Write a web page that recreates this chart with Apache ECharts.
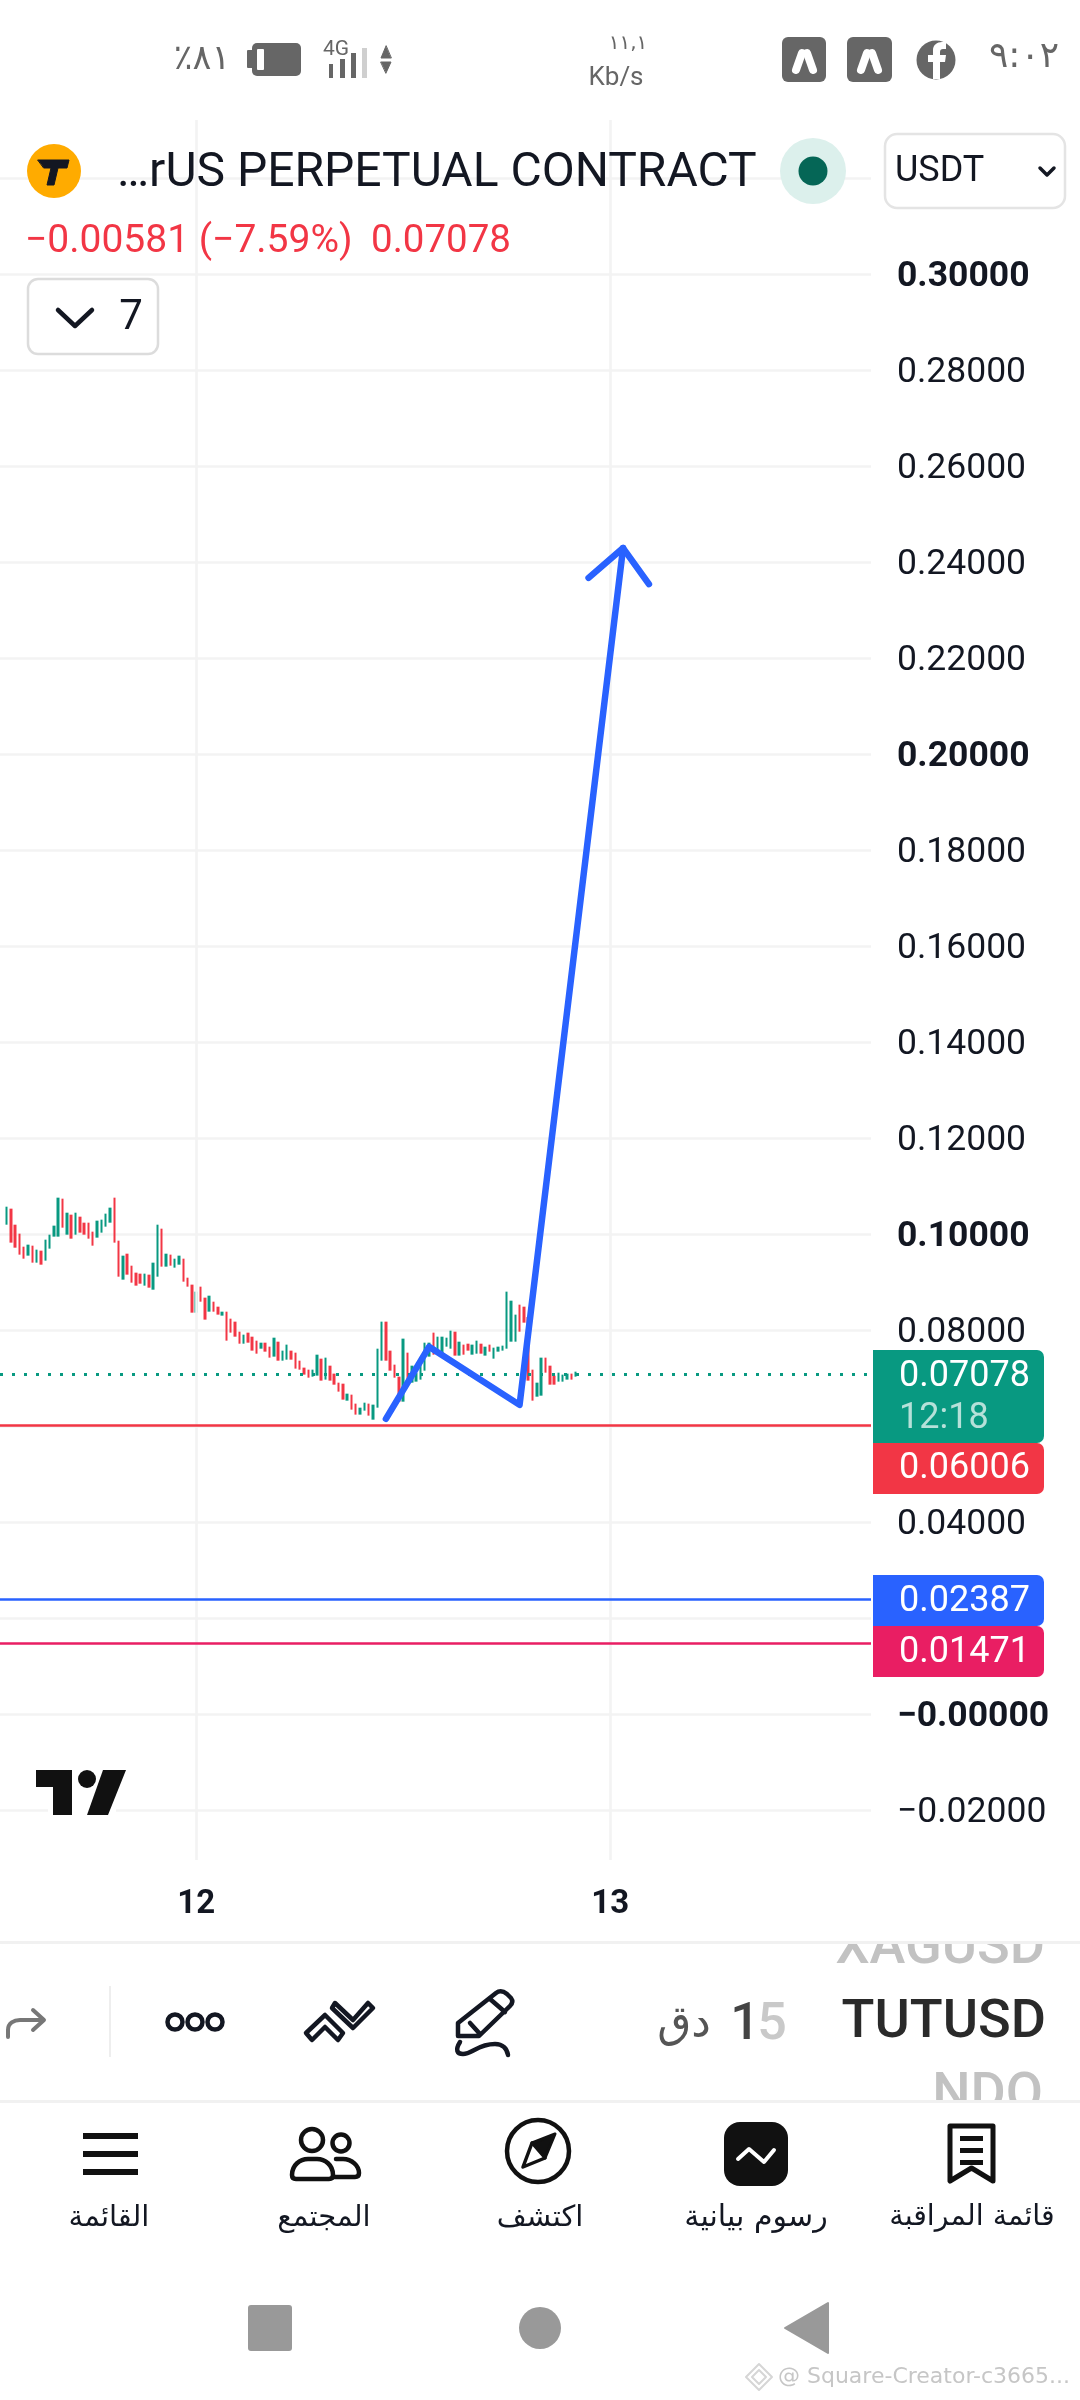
<!DOCTYPE html>
<html><head><meta charset="utf-8"><title>TUTUSD</title>
<style>html,body{margin:0;padding:0;background:#fff}#c{width:1080px;height:2400px}</style>
<script src="https://cdn.jsdelivr.net/npm/echarts@6/dist/echarts.min.js"></script></head>
<body><div id="c"></div>
<script>
// 15-minute bars (one body per bar, left to right)
const tops = [.10569,.10528,.10194,.10007,.09736,.09778,.09757,.09674,.09653,.09882,.09986,.10174,.10757,.10736,.10444,.10403,.10444,.10361,.10236,.10236,.10049,.10278,.10299,.10424,.10549,.10757,.09861,.09549,.0959,.0934,.09195,.09174,.09174,.09153,.09403,.10194,.10111,.0959,.0957,.09486,.09549,.09486,.0909,.08945,.08799,.08903,.08674,.08715,.0859,.08486,.08382,.08382,.08236,.08174,.07965,.07903,.07945,.07861,.07778,.07736,.07736,.07653,.0784,.07757,.0757,.07695,.0757,.07528,.07361,.07216,.07174,.07174,.07486,.07403,.07424,.07257,.07091,.06903,.06882,.06674,.06653,.06466,.06382,.06486,.06466,.06445,.07611,.08174,.08174,.0757,.07278,.07028,.0782,.07528,.07257,.07111,.07341,.07736,.07736,.07945,.07861,.07861,.0784,.07986,.07965,.07757,.07695,.07715,.07695,.07778,.07715,.07653,.07695,.07632,.07653,.07674,.08799,.08611,.0832,.08528,.08486,.08271,.07174,.06903,.07424,.07424,.07257,.07049,.07111,.0707,.07091,.07091,.07132];
const bottoms = [.10194,.0982,.09715,.0957,.09486,.09549,.09403,.09403,.09361,.09445,.09695,.09945,.09945,.10132,.09986,.09903,.09986,.10028,.09986,.09903,.09757,.09924,.10028,.10153,.10236,.0982,.09111,.09049,.09153,.08986,.08924,.08965,.08924,.08882,.0884,.09111,.0932,.0932,.0934,.09299,.09361,.09007,.08903,.08361,.08361,.0859,.08216,.08382,.08382,.0832,.08299,.07778,.07945,.07861,.07715,.07715,.07736,.0757,.07507,.07611,.07549,.07424,.07445,.07361,.07361,.07382,.07382,.07195,.07174,.0707,.07007,.07028,.07049,.06945,.06966,.06945,.06861,.06716,.06549,.06528,.06341,.06237,.06237,.0632,.06216,.06132,.06382,.07361,.07361,.07153,.07007,.06507,.06507,.06882,.06903,.06924,.06966,.07153,.07445,.07486,.07486,.07507,.07653,.07611,.07466,.07466,.07486,.0757,.07486,.07507,.07507,.07466,.07549,.07403,.07549,.0757,.07611,.07757,.07757,.07965,.08153,.06945,.06528,.06611,.06632,.07111,.06861,.06861,.06924,.06924,.06966,.06966,.07028];
const rising = [1,0,0,0,0,1,0,1,0,1,1,1,1,0,1,0,1,0,0,0,0,1,1,1,1,0,0,1,0,0,0,0,1,0,1,1,0,1,0,1,1,0,0,0,1,0,0,1,0,0,1,0,0,0,0,1,0,0,0,1,0,0,1,0,1,1,0,0,0,0,0,1,1,0,1,0,0,0,0,1,0,0,1,1,0,1,1,1,0,0,0,0,1,0,1,1,1,1,1,0,1,1,1,1,0,1,0,0,1,1,0,1,0,1,1,1,1,1,1,0,0,0,0,1,1,0,0,0,1,1,1,0,1];
// the category axis: one slot per 15 minutes; day labels sit on two of them
const dayLabels = ['12','13'];
const dayIndex = [45,141];
const slotCount = 202;
// horizontal price lines
const lastPrice = 0.07078;
const redLevel = 0.06006;
const blueLevel = 0.02387;
const pinkLevel = 0.01471;
const yMin = -0.04, yMax = 0.34, yStep = 0.02;
const visibleTop = 0.33208, visibleBottom = -0.03042;
// hand-drawn arrow on the chart: slot index + price
const drawnSlots = [89,99,120,144];
const drawnPrices = [0.0615,0.0765,0.0644,0.2429];
const headSlots = [136,144,150];
const headPrices = [0.2367,0.2429,0.2354];
const boldTicks = [30,20,10,0];
const hiddenTicks = [34,32,-4];

const UP='#089981', DOWN='#F23645', BLUE='#2962FF', PINK='#E91E63', GRID='#f3f3f3', INK='#131722';
const categories = Array.from({length:slotCount},(_,i)=>{const k=dayIndex.indexOf(i);return k>=0?dayLabels[k]:'s'+i;});
const candleData = [['-','-','-','-']].concat(tops.map((h,i)=>{
  const l=bottoms[i]; return rising[i]?[l,h,l,h]:[h,l,l,h];
}));
const pairs = (s,p)=>s.map((x,i)=>[categories[x],p[i]]);

const FONT='Roboto, sans-serif', AR='"DejaVu Sans", sans-serif';
const G=[];
let shapeNo=0;
function txt(t,x,y,font,fill,align,extra){
  const dy=font.indexOf('Roboto')>=0?3:0;
  G.push(Object.assign({type:'text',z:100,silent:true,style:{text:t,x:x,y:y+dy,font:font,fill:fill,textAlign:align||'left',textVerticalAlign:'middle'}},extra||{}));
}
function rect(x,y,w,h,fill,r,stroke,lw){G.push({type:'rect',z:100,silent:true,shape:{x,y,width:w,height:h,r:r||0},style:{fill:fill||'none',stroke:stroke||null,lineWidth:lw||0}});}
function circ(cx,cy,r,fill,stroke,lw){G.push({type:'circle',z:100,silent:true,shape:{cx,cy,r},style:{fill:fill||'none',stroke:stroke||null,lineWidth:lw||0}});}
function path(d,stroke,lw,fill){
  const name='icon'+(shapeNo++);
  echarts.graphic.registerShape(name,echarts.graphic.extendPath(d,{}));
  G.push({type:name,z:100,silent:true,style:{fill:fill||'none',stroke:stroke||null,lineWidth:lw||0,lineJoin:'round',lineCap:'round'}});
}

// status bar
const SB='#666666';
txt('٪٨١',202,60,'35px '+AR,SB,'center');
rect(252,43,49,33,SB,5); rect(247,50,6,18,SB,1); rect(257,49,7,21,'#fff',1);
txt('4G',336,47,'21px '+FONT,SB,'center');
rect(329,64,4,14,SB);rect(340,59,5,19,SB);rect(351,53,5,25,SB);rect(362,48,5,30,'#cfcfcf');
path('M386 46L381 58H391Z',SB,1,SB);path('M381 62H391L386 73Z',SB,1,SB);
txt('١١,١',628,44,'20px '+AR,SB,'center');
txt('Kb/s',616,75,'26px '+FONT,SB,'center');
rect(782,37,44,45,SB,6);rect(847,37,45,45,SB,6);
path('M796 70L802 53','#fff',8);path('M813 70L807 53','#fff',8);
path('M861 70L867 53','#fff',8);path('M878 70L872 53','#fff',8);
circ(936,60,19.5,SB);
path('M933 79V62H928V55H933V50C933 45 937 42 942 42H946V49H943C941 49 940 50 940 52V55H946L945 62H940V79Z',null,0,'#fff');
txt('٩:٠٢',1024,58,'36px '+AR,SB,'center');

// header
circ(54,171,27,'#FFAB00');
path('M38 160H69L67 168H58L54 185H47L51 168H44Z',INK,1,INK);
txt('…rUS PERPETUAL CONTRACT',117,171,'48px '+FONT,INK);
circ(813,171,33,'#DCF0EC');circ(813,171,14.5,'#056656');
rect(885,134,180,74,'#fff',12,'#e4e4e4',2.5);
txt('USDT',895,169,'36px '+FONT,INK);
path('M1040 168L1047 175L1054 168',INK,3.5);
txt('\u22120.00581 (\u22127.59%)',25,239,'39px '+FONT,DOWN);
txt(lastPrice.toFixed(5),371,239,'38.5px '+FONT,DOWN);
rect(28,279,130,75,'#fff',10,'#dcdcdc',2.5);
path('M58 310L75 326L92 310',INK,4.5);
txt('7',131,315,'42px '+FONT,INK,'center');

// price tags
const R=[0,7,7,0];
rect(873,1350,171,93,UP,R);
txt(lastPrice.toFixed(5),899,1374,'36px '+FONT,'#fff');
txt('12:18',899,1416,'36px '+FONT,'rgba(255,255,255,0.7)');
rect(873,1443,171,51,DOWN,R);
txt(redLevel.toFixed(5),899,1466,'36px '+FONT,'#fff');
rect(873,1575,171,51,BLUE,R);
txt(blueLevel.toFixed(5),899,1599,'36px '+FONT,'#fff');
rect(873,1626,171,51,PINK,R);
txt(pinkLevel.toFixed(5),899,1650,'36px '+FONT,'#fff');

// logo
rect(48,1805,68,9,'#fff');
path('M36 1770H72V1815H53V1787H36Z',null,0,'#111');
circ(87,1779,9,'#111');
path('M103 1770H126L108 1815H87Z',null,0,'#111');

// toolbar
txt('XAGUSD',1045,1946,'500 54px '+FONT,'#c2c2c2','right');
txt('NDO',1043,2093,'500 54px '+FONT,'#c2c2c2','right');
rect(830,1910,240,31,'#fff');rect(830,2102,240,30,'#fff');
rect(0,1941,1080,3,'#f1f1f1');rect(0,2100,1080,3,'#f1f1f1');
txt('TUTUSD',1046,2020,'500 54px '+FONT,'#2a2a2a','right');
txt('1',745,2023,'500 52px '+FONT,'#444','center');
txt('5',772,2023,'500 52px '+FONT,'#c9c9c9','center');
txt('دق',684,2026,'44px '+AR,'#555','center');
path('M458 2036V2023L496 1993Q501 1989 507 1994L511 1998Q514 2002 510 2006L479 2036Z M490 1999L505 2012 M470 2023L480 2034',INK,4.5);
path('M460 2042C455 2050 457 2054 463 2054C472 2054 478 2044 495 2044C503 2044 507 2049 508 2055',INK,4.5);
path('M306 2033L325 2015L343 2033L338 2040L325 2027L312 2040Z',INK,4.5);
path('M335 2003L353 2020L368 2003L373 2008L353 2028L332 2008Z',INK,4.5);
circ(175,2022,7.5,null,INK,4.5);circ(195,2022,7.5,null,INK,4.5);circ(215,2022,7.5,null,INK,4.5);
rect(109,1986,2,71,'#eeeeee');
path('M8 2037V2030C8 2023 14 2020 20 2020H42M33 2010L44 2020L33 2030','#777',4);

// bottom navigation
rect(83,2133,55,6,'#111');rect(83,2151,55,6,'#111');rect(83,2169,55,6,'#111');
txt('القائمة',109,2218,'29px '+AR,INK,'center');
circ(312,2140,11,null,'#111',4.5);circ(341,2143,8.5,null,'#111',4.5);
path('M296 2179H329Q333 2179 333 2175C333 2165 325 2159 317 2159H308C300 2159 292 2165 292 2175Q292 2179 296 2179Z','#111',4.5);
path('M336 2159H343C352 2159 359 2166 359 2173Q359 2177 355 2177H334','#111',4.5);
txt('المجتمع',324,2218,'29px '+AR,INK,'center');
circ(538,2151,31,null,'#111',4.5);
path('M555 2134L532 2143L545 2158Z','#111',3,'#111');
path('M532 2143L523 2167L545 2158','#111',3.5);
txt('اكتشف',540,2218,'29px '+AR,INK,'center');
rect(724,2122,64,64,'#111',16);
path('M738 2159L749 2149L764 2162L774 2150','#fff',4);
txt('رسوم بيانية',756,2218,'30px '+AR,INK,'center');
path('M950 2126H993V2181L971.5 2168L950 2181Z','#111',5);
rect(960,2136,23,5,'#111');rect(960,2148,23,5,'#111');rect(960,2160,23,5,'#111');
txt('قائمة المراقبة',972,2218,'28.5px '+AR,INK,'center');

// android nav
const NAV='#999999';
rect(248,2305,44,46,NAV,3);
circ(540,2328,21,NAV);
path('M828 2303V2353L785 2328Z',NAV,2,NAV);
path('M759 2364L772 2377L759 2390L746 2377Z','#d6d6d6',2);
path('M759 2370L766 2377L759 2384L752 2377Z','#d6d6d6',2);
txt('@ Square-Creator-c3665...',778,2377,'22px "DejaVu Sans", sans-serif','#c6c6c6');

const chart = echarts.init(document.getElementById('c'),null,{width:1080,height:2400});
const thinCut = dayLabels.map(d=>[{coord:[d,visibleTop]},{coord:[d,visibleBottom]}]);
chart.setOption({
  animation:false,
  backgroundColor:'#fff',
  grid:{left:-4.3,top:82,width:875.3,height:1824,containLabel:false},
  xAxis:{type:'category',data:categories,boundaryGap:true,
    axisLine:{show:false},axisTick:{show:false},splitLine:{show:false},
    axisLabel:{interval:(i)=>dayIndex.includes(i),margin:-18,color:INK,fontFamily:FONT,fontWeight:'bold',fontSize:33,
      formatter:(v)=>dayLabels.includes(v)?v:''}},
  yAxis:{type:'value',position:'right',min:yMin,max:yMax,interval:yStep,
    axisLine:{show:false},axisTick:{show:false},
    splitLine:{show:true,showMinLine:false,showMaxLine:false,lineStyle:{color:GRID,width:2.6}},
    axisLabel:{margin:26,color:INK,fontFamily:FONT,fontSize:35.5,showMinLabel:false,showMaxLabel:false,padding:[6,0,0,0],
      formatter:(v)=>{const k=Math.round(v*100);
        if(hiddenTicks.includes(k))return '';
        const s=(v<=0.0000001?'\u2212':'')+Math.abs(v).toFixed(5);
        return boldTicks.includes(k)?'{b|'+s+'}':s;},
      rich:{b:{fontFamily:FONT,fontSize:35.5,fontWeight:'bold',color:INK}}}},
  series:[
    {type:'line',name:'days',data:[],z:1,silent:true,symbol:'none',
      markLine:{silent:true,symbol:'none',precision:5,label:{show:false},animation:false,lineStyle:{color:GRID,width:2.6,type:'solid'},data:thinCut}},
    {type:'line',name:'levels',data:[],z:1,silent:true,symbol:'none',
      markLine:{silent:true,symbol:'none',precision:5,label:{show:false},animation:false,data:[
        {yAxis:lastPrice,lineStyle:{color:UP,width:3,type:[3,9]}},
        {yAxis:redLevel,lineStyle:{color:DOWN,width:2.6,type:'solid'}},
        {yAxis:blueLevel,lineStyle:{color:BLUE,width:2.6,type:'solid'}},
        {yAxis:pinkLevel,lineStyle:{color:PINK,width:2.6,type:'solid'}}]}},
    {type:'candlestick',name:'TUTUSD',data:candleData,z:3,barWidth:3,
      itemStyle:{color:UP,color0:DOWN,borderColor:UP,borderColor0:DOWN,borderWidth:0}},
    {type:'line',name:'drawn',data:pairs(drawnSlots,drawnPrices),z:5,symbol:'none',silent:true,
      lineStyle:{color:BLUE,width:6.5,cap:'round',join:'round'}},
    {type:'line',name:'head',data:pairs(headSlots,headPrices),z:5,symbol:'none',silent:true,
      lineStyle:{color:BLUE,width:6.5,cap:'round',join:'round'}}
  ],
  graphic:{elements:G}
});
</script></body></html>
